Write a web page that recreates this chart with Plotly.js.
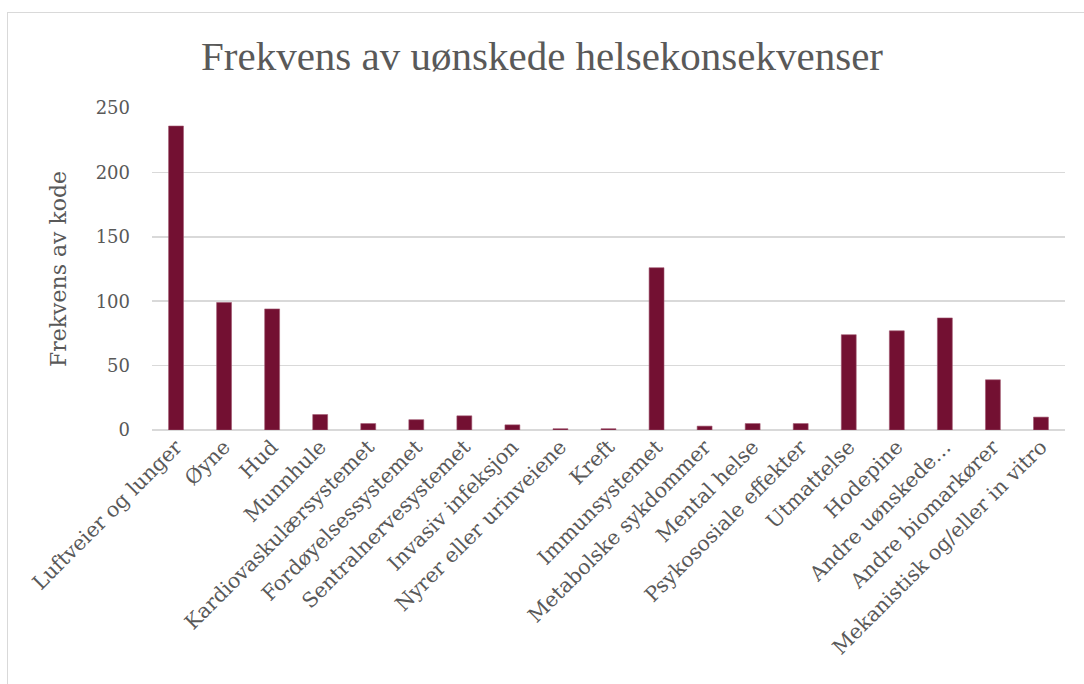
<!DOCTYPE html>
<html>
<head>
<meta charset="utf-8">
<script src="https://cdn.plot.ly/plotly-3.0.1.min.js"></script>
<style>
html,body{margin:0;padding:0;background:#fff;overflow:hidden;}
#frame{position:absolute;left:7px;top:12px;width:1200px;height:800px;border:1.5px solid #d9d9d9;box-sizing:border-box;}
#chart{position:absolute;left:0;top:0;width:1084px;height:684px;}
</style>
</head>
<body>
<div id="frame"></div>
<div id="chart"></div>
<script>
const categories = [
  "Luftveier og lunger","Øyne","Hud","Munnhule","Kardiovaskulærsystemet",
  "Fordøyelsessystemet","Sentralnervesystemet","Invasiv infeksjon",
  "Nyrer eller urinveiene","Kreft","Immunsystemet","Metabolske sykdommer",
  "Mental helse","Psykososiale effekter","Utmattelse","Hodepine",
  "Andre uønskede…","Andre biomarkører","Mekanistisk og/eller in vitro"
];
const frequencies = [236, 99, 94, 12, 5, 8, 11, 4, 1, 1, 126, 3, 5, 5, 74, 77, 87, 39, 10];
const yTicks = [0, 50, 100, 150, 200, 250];

const serif = "'DejaVu Serif', serif";
const trace = {
  type: 'bar',
  x: categories,
  y: frequencies,
  marker: {color: '#731032', line: {color: '#a0566f', width: 0.6}},
  hoverinfo: 'x+y'
};
const layout = {
  width: 1084, height: 684,
  paper_bgcolor: 'rgba(0,0,0,0)', plot_bgcolor: 'rgba(0,0,0,0)',
  margin: {l: 152, r: 19, t: 108, b: 254},
  bargap: 0.69,
  showlegend: false,
  title: {text: 'Frekvens av uønskede helsekonsekvenser', x: 0.5, xanchor: 'center', y: 0.918, yanchor: 'middle',
          font: {family: "'Liberation Serif', serif", size: 41, color: '#595959'}},
  xaxis: {
    type: 'category', tickangle: -45, automargin: false,
    tickfont: {family: serif, size: 20.5, color: '#595959'},
    showgrid: false, showline: false, ticks: '', zeroline: false
  },
  yaxis: {
    range: [0, 250], tickvals: yTicks, ticktext: yTicks.map(String), automargin: false,
    tickfont: {family: serif, size: 18, color: '#595959'},
    ticklabelstandoff: 21,
    gridcolor: '#d9d9d9', gridwidth: 1.5, zeroline: true, zerolinecolor: '#d9d9d9', zerolinewidth: 1.5,
    ticks: '', ticklen: 0, showline: false,
    title: {text: 'Frekvens av kode', standoff: 22, font: {family: serif, size: 22, color: '#595959'}}
  }
};
Plotly.newPlot('chart', [trace], layout, {displayModeBar: false, staticPlot: true});
</script>
</body>
</html>
